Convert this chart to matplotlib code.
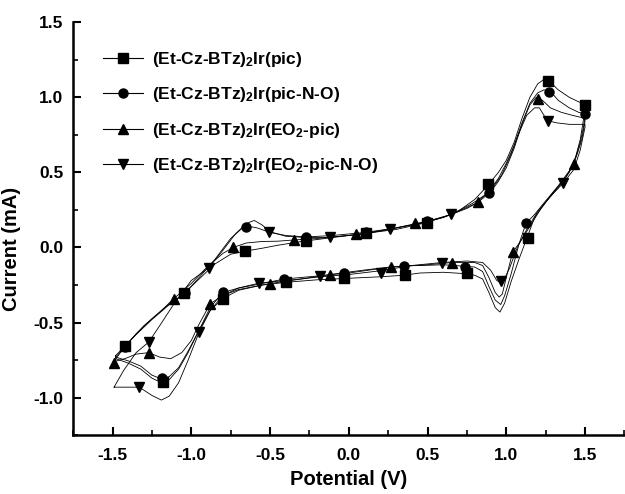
import matplotlib
matplotlib.use("Agg")
import matplotlib.pyplot as plt
from matplotlib.ticker import MultipleLocator, FormatStrFormatter
from matplotlib.lines import Line2D

plt.rcParams['font.family'] = ['Liberation Sans', 'DejaVu Sans']
plt.rcParams['font.weight'] = 'bold'
plt.rcParams['mathtext.fontset'] = 'custom'
plt.rcParams['mathtext.rm'] = 'Liberation Sans:bold'
plt.rcParams['mathtext.it'] = 'Liberation Sans:bold'
plt.rcParams['mathtext.bf'] = 'Liberation Sans:bold'

labels = [r'(Et-Cz-BTz)$_2$Ir(pic)',
          r'(Et-Cz-BTz)$_2$Ir(pic-N-O)',
          r'(Et-Cz-BTz)$_2$Ir(EO$_2$-pic)',
          r'(Et-Cz-BTz)$_2$Ir(EO$_2$-pic-N-O)']
markers = ['s', 'o', '^', 'v']

# ---- curve 1: (Et-Cz-BTz)2Ir(pic) ----
sq_x = [-1.48, -1.42, -1.35, -1.25, -1.15, -1.05, -0.95, -0.85, -0.75, -0.66, -0.55, -0.45, -0.3, -0.15, 0.0,
        0.15, 0.3, 0.45, 0.6, 0.7, 0.8, 0.88, 0.95, 1.0, 1.05, 1.1, 1.15, 1.2, 1.24, 1.28, 1.33, 1.4, 1.46, 1.5,
        1.5, 1.49, 1.47, 1.44, 1.40, 1.33, 1.25, 1.18, 1.13, 1.08, 1.03, 0.99, 0.96, 0.93, 0.89, 0.85, 0.80, 0.75,
        0.6, 0.45, 0.35, 0.2, 0.0, -0.2, -0.4, -0.55, -0.7, -0.8, -0.88, -0.95, -1.02, -1.08, -1.14, -1.19, -1.25,
        -1.32, -1.40, -1.48, -1.48]
sq_y = [-0.72, -0.655, -0.58, -0.48, -0.39, -0.31, -0.21, -0.11, -0.045, -0.025, -0.005, 0.015, 0.04, 0.06, 0.08,
        0.10, 0.12, 0.155, 0.2, 0.245, 0.32, 0.41, 0.50, 0.58, 0.70, 0.86, 1.00, 1.09, 1.12, 1.10, 1.05, 1.0, 0.97, 0.95,
        0.93, 0.85, 0.72, 0.6, 0.5, 0.40, 0.30, 0.2, 0.06, -0.08, -0.23, -0.37, -0.43, -0.40, -0.30, -0.21, -0.185, -0.175,
        -0.165, -0.17, -0.185, -0.195, -0.205, -0.215, -0.232, -0.25, -0.285, -0.34, -0.42, -0.55, -0.70, -0.81, -0.88, -0.90, -0.87,
        -0.81, -0.77, -0.74, -0.72]
sq_mx = [-1.42, -1.045, -0.66, -0.27, 0.11, 0.497, 0.884, 1.262, 1.497, 1.135, 0.75, 0.36, -0.027, -0.40, -0.80, -1.18]
sq_my = [-0.655, -0.305, -0.025, 0.045, 0.095, 0.165, 0.42, 1.109, 0.949, 0.064, -0.173, -0.184, -0.202, -0.232, -0.34, -0.895]

# ---- curve 2: (Et-Cz-BTz)2Ir(pic-N-O) ----
ci_x = [-1.48, -1.42, -1.35, -1.25, -1.15, -1.04, -0.95, -0.85, -0.75, -0.68, -0.63, -0.58, -0.5, -0.4, -0.27, -0.1,
        0.1, 0.3, 0.5, 0.65, 0.78, 0.88, 0.95, 1.0, 1.05, 1.1, 1.15, 1.2, 1.24, 1.28, 1.33, 1.4, 1.46, 1.5,
        1.5, 1.49, 1.47, 1.44, 1.40, 1.33, 1.25, 1.18, 1.125, 1.08, 1.03, 0.99, 0.965, 0.93, 0.89, 0.85, 0.80, 0.74,
        0.6, 0.45, 0.36, 0.2, 0.0, -0.2, -0.41, -0.55, -0.7, -0.8, -0.88, -0.95, -1.02, -1.08, -1.14, -1.19, -1.25,
        -1.32, -1.40, -1.48]
ci_y = [-0.73, -0.66, -0.575, -0.475, -0.385, -0.305, -0.2, -0.08, 0.06, 0.125, 0.14, 0.13, 0.10, 0.08, 0.07, 0.08,
        0.10, 0.13, 0.17, 0.22, 0.29, 0.36, 0.46, 0.56, 0.68, 0.83, 0.96, 1.03, 1.05, 1.04, 0.98, 0.93, 0.90, 0.89,
        0.87, 0.8, 0.7, 0.6, 0.51, 0.41, 0.31, 0.22, 0.16, 0.02, -0.18, -0.32, -0.38, -0.35, -0.26, -0.16, -0.13, -0.125,
        -0.115, -0.12, -0.122, -0.14, -0.17, -0.19, -0.21, -0.24, -0.27, -0.30, -0.40, -0.55, -0.69, -0.80, -0.86, -0.875, -0.85,
        -0.79, -0.755, -0.73]
ci_mx = [-1.42, -1.04, -0.655, -0.27, 0.112, 0.497, 0.888, 1.273, 1.50, 1.125, 0.74, 0.353, -0.027, -0.41, -0.80, -1.185]
ci_my = [-0.66, -0.305, 0.134, 0.073, 0.10, 0.175, 0.36, 1.038, 0.89, 0.16, -0.127, -0.12, -0.173, -0.21, -0.297, -0.872]

# ---- curve 3: (Et-Cz-BTz)2Ir(EO2-pic) ----
tr_x = [-1.49, -1.45, -1.38, -1.30, -1.2, -1.11, -1.0, -0.9, -0.8, -0.735, -0.65, -0.55, -0.45, -0.35, -0.2, 0.04,
        0.25, 0.43, 0.6, 0.75, 0.82, 0.9, 0.95, 1.0, 1.05, 1.1, 1.15, 1.19, 1.23, 1.28, 1.35, 1.42, 1.5,
        1.5, 1.48, 1.45, 1.427, 1.38, 1.3, 1.22, 1.15, 1.09, 1.04, 1.0, 0.975, 0.955, 0.93, 0.89, 0.85, 0.8, 0.655,
        0.5, 0.27, 0.1, -0.12, -0.3, -0.5, -0.7, -0.8, -0.88, -0.95, -1.0, -1.06, -1.13, -1.2, -1.27, -1.35, -1.42, -1.49]
tr_y = [-0.76, -0.70, -0.61, -0.52, -0.43, -0.34, -0.24, -0.13, -0.04, 0.0, 0.03, 0.04, 0.042, 0.05, 0.06, 0.085,
        0.12, 0.16, 0.2, 0.26, 0.30, 0.37, 0.44, 0.53, 0.66, 0.82, 0.95, 1.0, 0.98, 0.93, 0.90, 0.88, 0.86,
        0.84, 0.72, 0.62, 0.553, 0.47, 0.37, 0.26, 0.14, 0.04, -0.033, -0.2, -0.31, -0.33, -0.30, -0.2, -0.12, -0.10, -0.10,
        -0.115, -0.129, -0.15, -0.18, -0.21, -0.24, -0.28, -0.32, -0.375, -0.51, -0.62, -0.70, -0.74, -0.73, -0.70, -0.71, -0.74, -0.76]
tr_mx = [-1.49, -1.11, -0.735, -0.349, 0.047, 0.423, 0.818, 1.20, 1.427, 1.04, 0.655, 0.27, -0.12, -0.50, -0.88, -1.27]
tr_my = [-0.766, -0.34, 0.004, 0.05, 0.087, 0.164, 0.30, 0.987, 0.553, -0.033, -0.10, -0.129, -0.18, -0.24, -0.375, -0.70]

# ---- curve 4: (Et-Cz-BTz)2Ir(EO2-pic-N-O) ----
it_x = [-1.49, -1.43, -1.35, -1.27, -1.2, -1.1, -1.0, -0.89, -0.8, -0.72, -0.65, -0.6, -0.55, -0.5, -0.4, -0.25,
        -0.12, 0.1, 0.264, 0.45, 0.651, 0.8, 0.9, 0.97, 1.03, 1.08, 1.13, 1.18, 1.21, 1.26, 1.32, 1.4, 1.5,
        1.5, 1.47, 1.43, 1.36, 1.28, 1.2, 1.13, 1.07, 1.02, 0.985, 0.966, 0.94, 0.9, 0.85, 0.75, 0.59,
        0.4, 0.2, 0.0, -0.18, -0.4, -0.57, -0.7, -0.8, -0.88, -0.95, -1.02, -1.08, -1.14, -1.19, -1.25, -1.33,
        -1.42, -1.49]
it_y = [-0.93, -0.82, -0.70, -0.63, -0.52, -0.36, -0.22, -0.136, -0.02, 0.09, 0.16, 0.18, 0.15, 0.105, 0.075, 0.065,
        0.068, 0.09, 0.122, 0.16, 0.22, 0.29, 0.38, 0.48, 0.62, 0.76, 0.88, 0.93, 0.93, 0.845, 0.83, 0.82, 0.82,
        0.80, 0.65, 0.52, 0.427, 0.34, 0.24, 0.12, 0.0, -0.14, -0.215, -0.235, -0.22, -0.15, -0.10, -0.09, -0.10,
        -0.12, -0.155, -0.18, -0.195, -0.22, -0.237, -0.27, -0.32, -0.42, -0.565, -0.75, -0.90, -0.99, -1.016, -0.985, -0.93,
        -0.93, -0.93]
it_mx = [-1.27, -0.89, -0.508, -0.116, 0.264, 0.651, 1.262, 1.36, 0.966, 0.59, 0.205, -0.18, -0.57, -0.95, -1.33]
it_my = [-0.63, -0.136, 0.105, 0.07, 0.122, 0.22, 0.842, 0.427, -0.224, -0.10, -0.169, -0.19, -0.237, -0.56, -0.93]

curves = [(sq_x, sq_y, sq_mx, sq_my), (ci_x, ci_y, ci_mx, ci_my),
          (tr_x, tr_y, tr_mx, tr_my), (it_x, it_y, it_mx, it_my)]

fig = plt.figure(figsize=(6.25, 4.94), dpi=100)
ax = fig.add_axes([0.117, 0.119, 0.882, 0.836])

handles = []
for (cx, cy, mx, my), mk, lab in zip(curves, markers, labels):
    ax.plot(cx, cy, color='black', lw=0.6)
    ax.plot(mx, my, linestyle='none', marker=mk, color='black', markersize=6.5)
    handles.append(Line2D([], [], color='black', lw=0.8, marker=mk, markersize=6.5, label=lab))

ax.set_xlim(-1.75, 1.75)
ax.set_ylim(-1.25, 1.5)
ax.xaxis.set_major_locator(MultipleLocator(0.5))
ax.xaxis.set_minor_locator(MultipleLocator(0.25))
ax.yaxis.set_major_locator(MultipleLocator(0.5))
ax.yaxis.set_minor_locator(MultipleLocator(0.25))
ax.xaxis.set_major_formatter(FormatStrFormatter('%.1f'))
ax.yaxis.set_major_formatter(FormatStrFormatter('%.1f'))
ax.tick_params(which='major', direction='in', length=6, width=1.5, labelsize=12.5)
ax.tick_params(axis='x', which='major', pad=9)
ax.tick_params(axis='y', which='major', pad=7)
ax.tick_params(which='minor', direction='in', length=3.5, width=1.2)
for lab in ax.get_xticklabels() + ax.get_yticklabels():
    lab.set_fontweight('bold')
for s in ['top', 'right']:
    ax.spines[s].set_visible(False)
for s in ['left', 'bottom']:
    ax.spines[s].set_linewidth(1.8)

ax.set_xlabel('Potential (V)', fontsize=14.5, fontweight='bold', labelpad=5)
ax.set_ylabel('Current (mA)', fontsize=14.5, fontweight='bold', labelpad=5)
ax.yaxis.set_label_coords(-0.095, 0.45)

leg = ax.legend(handles=handles, loc='upper left', bbox_to_anchor=(0.165, 0.899), bbox_transform=fig.transFigure,
                frameon=False, fontsize=12.5, handlelength=2.3, labelspacing=0.95, handletextpad=0.5,
                borderaxespad=0, borderpad=0)
for t in leg.get_texts():
    t.set_fontweight('bold')

fig.savefig('out.png', dpi=100)
